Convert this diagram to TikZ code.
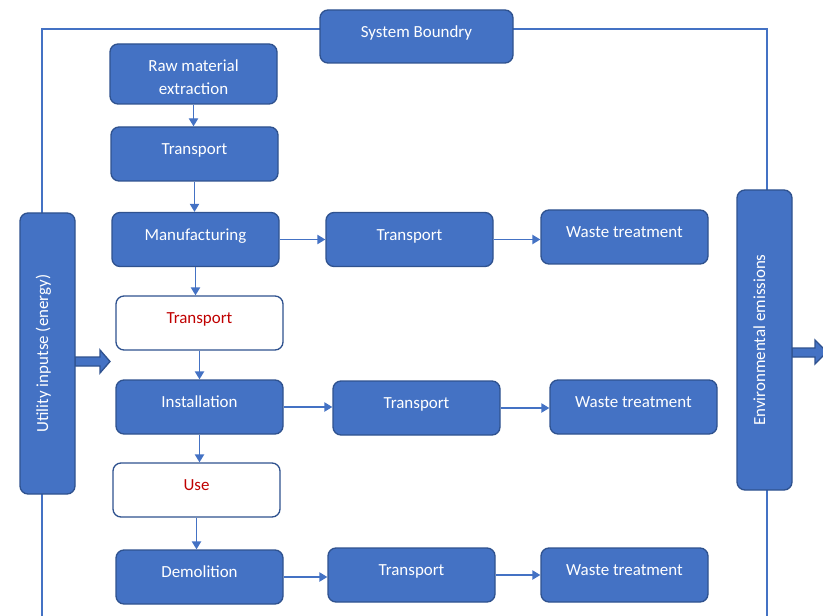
\documentclass[tikz,border=0pt]{standalone}
\usepackage{fontspec}
\setmainfont{Carlito}
\usetikzlibrary{arrows.meta,calc}
\definecolor{blu}{HTML}{4472C4}
\definecolor{bdr}{HTML}{2F528F}
\definecolor{redt}{HTML}{C00000}
\begin{document}
\begin{tikzpicture}[x=0.75pt,y=-0.75pt,
  box/.style={draw=bdr, line width=1pt, fill=blu, text=white, rounded corners=6pt,
    minimum width=125.25pt, minimum height=40.5pt, inner sep=0pt,
    font=\fontsize{12.7}{17.25}\selectfont},
  pad/.style={text height=7.5pt, text depth=6.5pt},
  wbox/.style={box, pad, fill=white, text=redt},
  arr/.style={draw=blu, line width=1pt, -{Triangle[length=6pt,width=7pt]}},
  bound/.style={draw=blu, line width=0.9pt},
  blockarrow/.style={draw=bdr, line width=1pt, fill=blu}]
\useasboundingbox (0,0) rectangle (823,616);
% system boundary
\coordinate (tl) at (42,29);
\coordinate (tr) at (767,29);
\coordinate (bl) at (42,617);
\coordinate (br) at (767,617);
\draw[bound] (bl) -- (tl) -- (tr) -- (br);
% block arrows
\draw[blockarrow] (75,357) -- (100,357) -- (100,350) -- (110,361.5) -- (100,373) -- (100,366) -- (75,366) -- cycle;
\draw[blockarrow] (792,348) -- (815,348) -- (815,340) -- (827,352) -- (815,364) -- (815,357) -- (792,357) -- cycle;
% nodes
\node[box, pad, minimum width=144.75pt, minimum height=39.75pt] (sysb) at (416.5,36.5) {System Boundry};
\node[box, minimum height=45pt, text height=31pt, text depth=0pt] (raw) at (193.5,74) {\begin{tabular}[b]{@{}c@{}}Raw material\\extraction\end{tabular}};
\node[box, pad] (t1) at (194.5,154) {Transport};
\node[box, pad] (man) at (195.5,239.5) {Manufacturing};
\node[box, pad] (tm) at (409.5,239.5) {Transport};
\node[box, pad] (wm) at (624.5,237) {Waste treatment};
\node[wbox] (tr) at (199.5,323) {Transport};
\node[box, pad] (ins) at (199.5,407) {Installation};
\node[box, pad] (ti) at (416.5,408) {Transport};
\node[box, pad] (wi) at (633.5,407) {Waste treatment};
\node[wbox] (use) at (196.5,490) {Use};
\node[box, pad] (dem) at (199.5,577) {Demolition};
\node[box, pad] (td) at (411.5,575) {Transport};
\node[box, pad] (wd) at (624.5,575) {Waste treatment};
\node[box, pad, rotate=90, minimum width=210.75pt, minimum height=41.25pt] (util) at (47.5,353.5) {Utility inputse (energy)};
\node[box, pad, rotate=90, minimum width=225pt, minimum height=41.25pt] (env) at (764.5,340) {Environmental emissions};
% vertical connectors
\draw[arr] (raw.south) -- (raw.south |- t1.north);
\draw[arr] (t1.south) -- (t1.south |- man.north);
\draw[arr] (man.south) -- (man.south |- tr.north);
\draw[arr] (tr.south) -- (tr.south |- ins.north);
\draw[arr] (ins.south) -- (ins.south |- use.north);
\draw[arr] (use.south) -- (use.south |- dem.north);
% horizontal connectors
\draw[arr] (man.east) -- (man.east -| tm.west);
\draw[arr] (tm.east) -- (tm.east -| wm.west);
\draw[arr] (ins.east) -- (ins.east -| ti.west);
\draw[arr] (ti.east) -- (ti.east -| wi.west);
\draw[arr] (dem.east) -- (dem.east -| td.west);
\draw[arr] (td.east) -- (td.east -| wd.west);
\end{tikzpicture}
\end{document}
